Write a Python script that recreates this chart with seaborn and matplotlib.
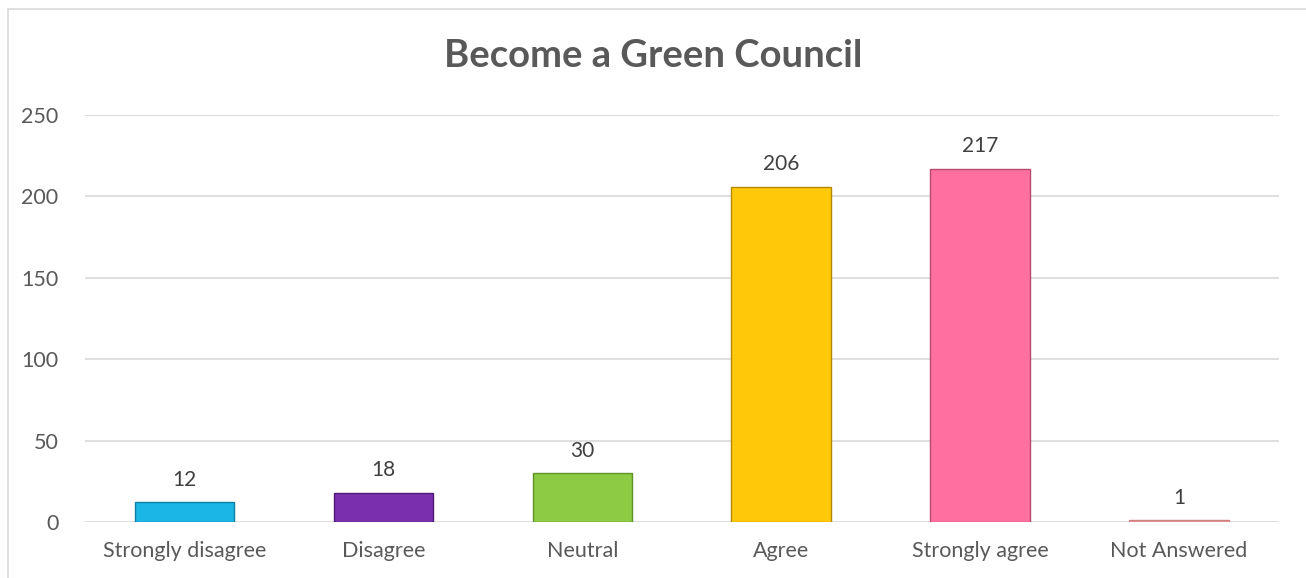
import matplotlib
matplotlib.use('Agg')
import matplotlib.pyplot as plt
import seaborn as sns
import pandas as pd
from matplotlib.patches import Rectangle

categories = ['Strongly disagree', 'Disagree', 'Neutral', 'Agree', 'Strongly agree', 'Not Answered']
counts = [12, 18, 30, 206, 217, 1]
colors = ['#1CB6E6', '#7A2FAE', '#8DCB45', '#FFC90A', '#FF6FA0', '#E89A9A']
edges = ['#0F7FA3', '#4E1A75', '#5E9128', '#B38900', '#B84A70', '#D08080']
yticks = [0, 50, 100, 150, 200, 250]

sns.set_theme(style='white')
plt.rcParams['font.family'] = ['Lato', 'DejaVu Sans']
text_color = '#595959'

df = pd.DataFrame({'category': categories, 'count': counts})

fig = plt.figure(figsize=(13.06, 5.78), dpi=100)
ax = fig.add_axes([0.065, 0.097, 0.914, 0.704])

sns.barplot(data=df, x='category', y='count', hue='category', palette=colors,
            legend=False, width=0.5, ax=ax, saturation=1)

for patch, ec in zip(ax.patches, edges):
    patch.set_edgecolor(ec)
    patch.set_linewidth(1.0)

for container in ax.containers:
    ax.bar_label(container, padding=9, fontsize=15, color='#404040')

ax.set_ylim(0, 250)
ax.set_yticks(yticks)
ax.yaxis.grid(True, color='#D9D9D9', linewidth=1.2)
ax.set_axisbelow(True)
ax.set_xlabel('')
ax.set_ylabel('')
sns.despine(ax=ax, left=True, bottom=True)
ax.tick_params(axis='both', length=0, labelsize=15.5, colors=text_color)
ax.tick_params(axis='x', pad=14)
ax.tick_params(axis='y', pad=19)

fig.suptitle('Become a Green Council', x=0.5, y=1 - 56 / 578, va='center',
             fontsize=27.5, fontweight='bold', color=text_color)

# chart border
fig.patches.append(Rectangle((8 / 1306, -0.1), 1.1, 1.1 - 9 / 578,
                             transform=fig.transFigure, fill=False,
                             edgecolor='#D9D9D9', linewidth=1.2))

fig.savefig('out.png', dpi=100)
